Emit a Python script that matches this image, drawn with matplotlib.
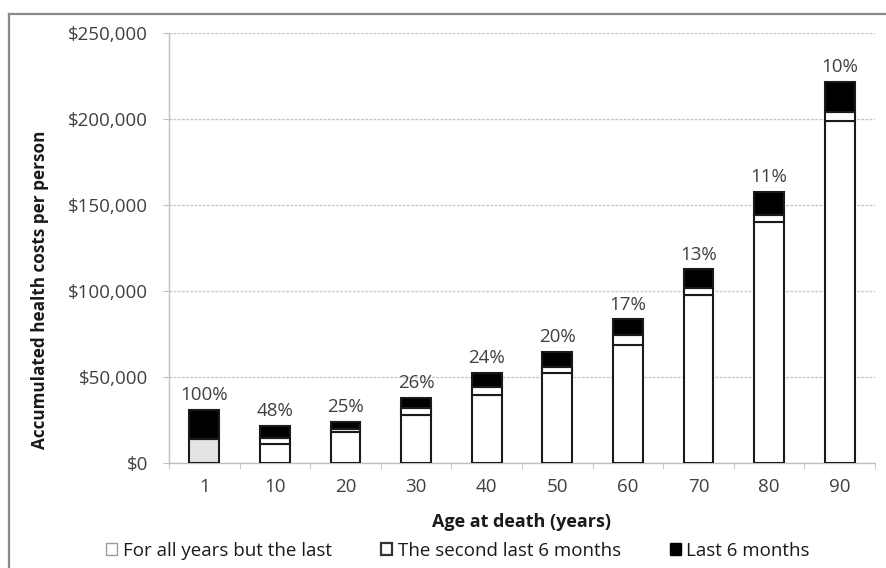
import matplotlib
matplotlib.use("Agg")
import matplotlib.pyplot as plt
from matplotlib.patches import Patch
from matplotlib.lines import Line2D
from matplotlib.ticker import FuncFormatter, MultipleLocator, FixedLocator

plt.rcParams['font.family'] = ['Open Sans', 'DejaVu Sans']

ages = ["1", "10", "20", "30", "40", "50", "60", "70", "80", "90"]
all_but_last = [0, 11000, 18000, 28000, 39500, 52200, 68600, 97700, 140300, 198800]
second_last_6m = [14000, 3700, 1500, 3800, 4800, 3900, 5800, 4200, 3900, 5000]
last_6m = [17000, 6800, 4500, 6000, 8100, 8700, 9100, 10700, 13500, 17800]
pct_labels = ["100%", "48%", "25%", "26%", "24%", "20%", "17%", "13%", "11%", "10%"]
second_colors = ["#e4e4e4"] + ["white"] * 9

W, H = 886, 568
fig = plt.figure(figsize=(W / 100, H / 100), dpi=100)
ax = fig.add_axes([169 / W, 1 - 463 / H, (875 - 169) / W, (463 - 33) / H])

x = list(range(len(ages)))
bw = 0.42
ec = "#1a1a1a"
lw = 1.5
ax.bar(x, all_but_last, bw, color="white", edgecolor=ec, linewidth=lw, zorder=3)
ax.bar(x, second_last_6m, bw, bottom=all_but_last, color=second_colors,
       edgecolor=ec, linewidth=lw, zorder=3)
bottom2 = [a + b for a, b in zip(all_but_last, second_last_6m)]
ax.bar(x, last_6m, bw, bottom=bottom2, color="black", edgecolor=ec,
       linewidth=lw, zorder=3)

totals = [a + b for a, b in zip(bottom2, last_6m)]
for xi, t, lab in zip(x, totals, pct_labels):
    ax.annotate(lab, (xi, t), xytext=(0, 4), textcoords="offset points",
                ha="center", va="bottom", fontsize=13.5, color="#404040")

ax.set_xlim(-0.5, len(ages) - 0.5)
ax.set_ylim(0, 250000)
ax.yaxis.set_major_locator(MultipleLocator(50000))
ax.yaxis.set_major_formatter(FuncFormatter(lambda v, p: "${:,.0f}".format(v)))
ax.set_xticks(x)
ax.set_xticklabels(ages)
ax.xaxis.set_minor_locator(FixedLocator([i - 0.5 for i in range(len(ages) + 1)]))

ax.grid(axis="y", color="#c8c8c8", linestyle=(0, (2, 1)), linewidth=1.0, zorder=0)
ax.set_axisbelow(True)
for s in ["top", "right"]:
    ax.spines[s].set_visible(False)
for s in ["left", "bottom"]:
    ax.spines[s].set_color("#bfbfbf")
    ax.spines[s].set_linewidth(1.0)

ax.tick_params(axis="y", which="major", length=4.3, color="#bfbfbf",
               labelsize=13.5, labelcolor="#404040", pad=11)
ax.tick_params(axis="x", which="major", length=0, labelsize=13.5,
               labelcolor="#404040", pad=11)
ax.tick_params(axis="x", which="minor", length=4, color="#bfbfbf")

fig.text(40 / W, 1 - 290 / H, "Accumulated health costs per person",
         rotation=90, ha="center", va="center", fontsize=12.3,
         fontweight="bold", color="#1a1a1a")
fig.text(521 / W, 1 - 522 / H, "Age at death (years)", ha="center",
         va="center", fontsize=13, fontweight="bold", color="#1a1a1a")

handles = [
    Patch(facecolor="white", edgecolor="#9a9a9a", linewidth=1.0),
    Patch(facecolor="white", edgecolor="#333333", linewidth=1.6),
    Patch(facecolor="black", edgecolor="black", linewidth=1.0),
]
labels = ["For all years but the last", "The second last 6 months", "Last 6 months"]
fig.legend(handles, labels, loc="center", bbox_to_anchor=(458 / W, 1 - 551 / H),
           ncol=3, frameon=False, fontsize=13.5, handlelength=0.6,
           handleheight=0.6, handletextpad=0.3, columnspacing=2.6,
           labelcolor="#1a1a1a")

# outer chart border (top and left visible)
fig.add_artist(Line2D([9 / W, 1.0], [1 - 14 / H, 1 - 14 / H],
                      transform=fig.transFigure, color="#8a8a8a", linewidth=1.6))
fig.add_artist(Line2D([9 / W, 9 / W], [0, 1 - 14 / H],
                      transform=fig.transFigure, color="#8a8a8a", linewidth=1.6))

fig.savefig("out.png", dpi=100)
